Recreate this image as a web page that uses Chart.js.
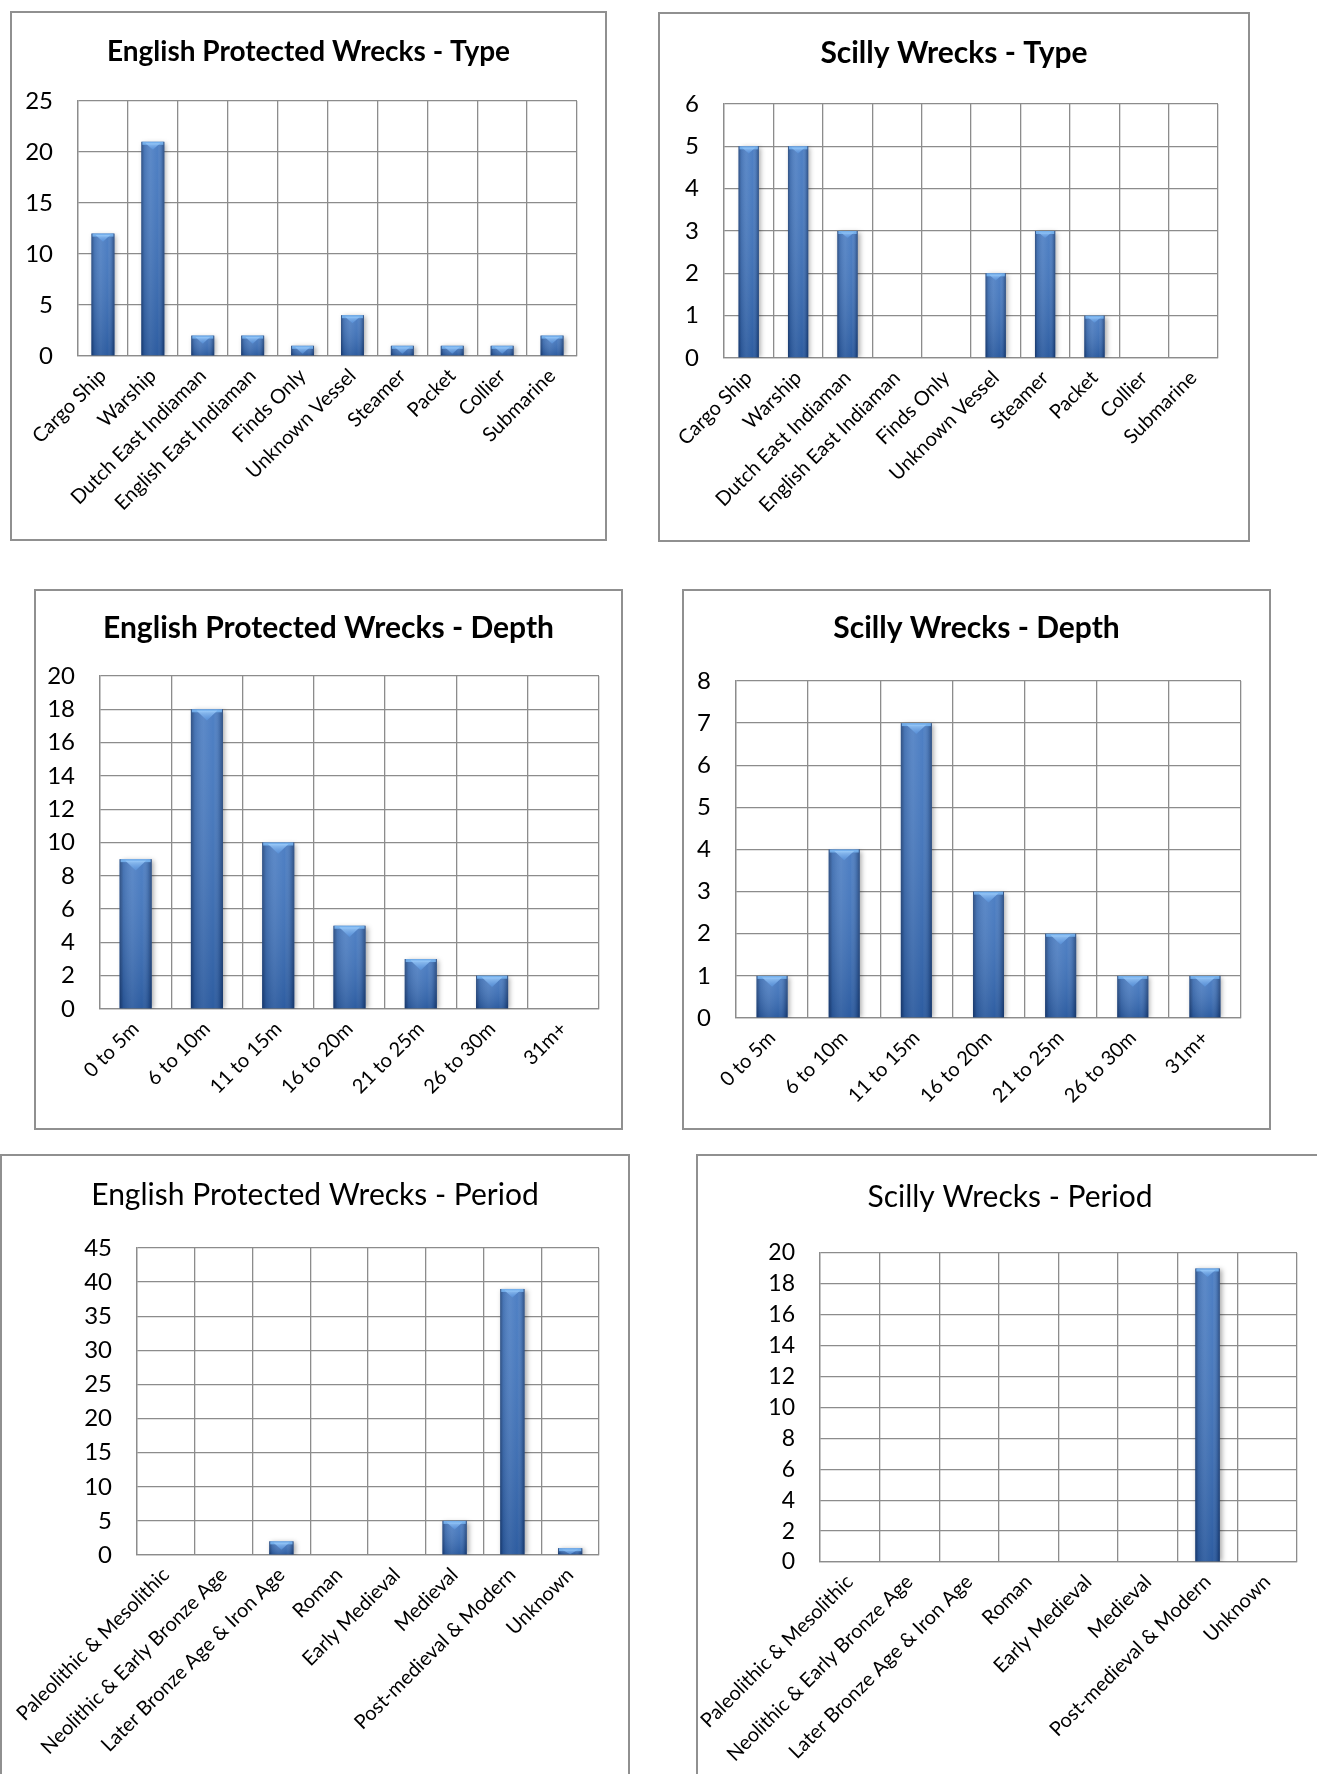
<!DOCTYPE html>
<html>
<head>
<meta charset="utf-8">
<script src="https://cdn.jsdelivr.net/npm/chart.js@4.4.0/dist/chart.umd.min.js"></script>
<style>
  html, body { margin: 0; padding: 0; background: #fff; width: 1317px; height: 1774px; overflow: hidden; }
  .panel { position: absolute; box-sizing: border-box; border: 2px solid #909090; background: #fff; }
  .panel canvas { position: absolute; left: -2px; top: -2px; }
</style>
</head>
<body>
<div class="panel" id="p1"><canvas id="c1"></canvas></div>
<div class="panel" id="p2"><canvas id="c2"></canvas></div>
<div class="panel" id="p3"><canvas id="c3"></canvas></div>
<div class="panel" id="p4"><canvas id="c4"></canvas></div>
<div class="panel" id="p5"><canvas id="c5"></canvas></div>
<div class="panel" id="p6"><canvas id="c6"></canvas></div>
<script>
// ── Data ──
const typeLabels = ['Cargo Ship', 'Warship', 'Dutch East Indiaman', 'English East Indiaman', 'Finds Only',
                    'Unknown Vessel', 'Steamer', 'Packet', 'Collier', 'Submarine'];
const englishType = [12, 21, 2, 2, 1, 4, 1, 1, 1, 2];
const scillyType  = [5, 5, 3, 0, 0, 2, 3, 1, 0, 0];

const depthLabels = ['0 to 5m', '6 to 10m', '11 to 15m', '16 to 20m', '21 to 25m', '26 to 30m', '31m+'];
const englishDepth = [9, 18, 10, 5, 3, 2, 0];
const scillyDepth  = [1, 4, 7, 3, 2, 1, 1];

const periodLabels = ['Paleolithic & Mesolithic', 'Neolithic & Early Bronze Age', 'Later Bronze Age & Iron Age',
                      'Roman', 'Early Medieval', 'Medieval', 'Post-medieval & Modern', 'Unknown'];
const englishPeriod = [0, 0, 2, 0, 0, 5, 39, 1];
const scillyPeriod  = [0, 0, 0, 0, 0, 0, 19, 0];

// y axis ranges [max, step]
const englishTypeAxis   = [25, 5];
const scillyTypeAxis    = [6, 1];
const englishDepthAxis  = [20, 2];
const scillyDepthAxis   = [8, 1];
const englishPeriodAxis = [45, 5];
const scillyPeriodAxis  = [20, 2];

// ── Panel layout (box in page px, plot area relative to box) ──
const panels = [
  { id: 1, title: 'English Protected Wrecks - Type', labels: typeLabels, values: englishType, axis: englishTypeAxis,
    box: [10, 11, 597, 530], plot: [68, 90, 567, 345], ty: 41, ts: 28, bold: true, cp: 0.46, ys: 24 },
  { id: 2, title: 'Scilly Wrecks - Type', labels: typeLabels, values: scillyType, axis: scillyTypeAxis,
    box: [658, 12, 592, 530], plot: [66, 92, 560, 346], ty: 41, ts: 30, bold: true, cp: 0.41, ys: 24 },
  { id: 3, title: 'English Protected Wrecks - Depth', labels: depthLabels, values: englishDepth, axis: englishDepthAxis,
    box: [34, 589, 589, 541], plot: [66, 87, 565, 420], ty: 39, ts: 30, bold: true, cp: 0.45, ys: 24 },
  { id: 4, title: 'Scilly Wrecks - Depth', labels: depthLabels, values: scillyDepth, axis: scillyDepthAxis,
    box: [682, 589, 589, 541], plot: [54, 92, 559, 429], ty: 39, ts: 30, bold: true, cp: 0.43, ys: 24 },
  { id: 5, title: 'English Protected Wrecks - Period', labels: periodLabels, values: englishPeriod, axis: englishPeriodAxis,
    box: [0, 1154, 630, 640], plot: [137, 94, 599, 401], ty: 41, ts: 30, bold: false, cp: 0.42, ys: 24 },
  { id: 6, title: 'Scilly Wrecks - Period', labels: periodLabels, values: scillyPeriod, axis: scillyPeriodAxis,
    box: [696, 1154, 628, 640], plot: [124, 99, 601, 408], ty: 43, ts: 30, bold: false, cp: 0.41, ys: 23 }
];

Chart.defaults.font.family = 'Lato, "Open Sans", sans-serif';
Chart.defaults.color = '#000';

const GRID = '#8c8c8c';

// ── Bevelled bar look (shading drawn over the library's bar elements) ──
const bevel = {
  id: 'bevel',
  beforeDatasetsDraw(chart) {
    const c = chart.ctx;
    c.save();
    c.shadowColor = 'rgba(0,0,0,0.35)';
    c.shadowBlur = 5;
    c.shadowOffsetX = 2;
    c.shadowOffsetY = 1;
  },
  afterDatasetsDraw(chart) {
    const c = chart.ctx;
    c.restore();
    chart.getDatasetMeta(0).data.forEach(bar => {
      const { x, y, base, width } = bar.getProps(['x', 'y', 'base', 'width'], true);
      const h = base - y;
      if (h < 1) return;
      const l = x - width / 2, r = x + width / 2;
      c.save();
      // sides darker, middle lighter
      const g = c.createLinearGradient(l, 0, r, 0);
      g.addColorStop(0, 'rgba(8,30,70,0.6)');
      g.addColorStop(0.12, 'rgba(8,30,70,0.15)');
      g.addColorStop(0.4, 'rgba(255,255,255,0.08)');
      g.addColorStop(0.7, 'rgba(255,255,255,0)');
      g.addColorStop(0.9, 'rgba(8,30,70,0.22)');
      g.addColorStop(1, 'rgba(8,30,70,0.6)');
      c.fillStyle = g;
      c.fillRect(l, y, width, h);
      // top lighter, bottom darker
      const v = c.createLinearGradient(0, y, 0, base);
      v.addColorStop(0, 'rgba(255,255,255,0.10)');
      v.addColorStop(1, 'rgba(0,20,60,0.22)');
      c.fillStyle = v;
      c.fillRect(l, y, width, h);
      // cap
      const cap = Math.min(width * 0.35, h);
      c.fillStyle = 'rgba(120,180,240,0.9)';
      c.fillRect(l + 1, y, width - 2, Math.min(3, h));
      const tg = c.createLinearGradient(0, y, 0, y + cap);
      tg.addColorStop(0, 'rgba(165,210,252,0.95)');
      tg.addColorStop(1, 'rgba(90,150,225,0.6)');
      c.fillStyle = tg;
      c.beginPath();
      c.moveTo(l + width * 0.18, y + 1.5);
      c.lineTo(r - width * 0.18, y + 1.5);
      c.lineTo(x, y + cap);
      c.closePath();
      c.fill();
      c.restore();
    });
  }
};

// ── Build Charts ──
panels.forEach(p => {
  const [bx, by, bw, bh] = p.box;
  const [pl, pt, pr, pb] = p.plot;
  const div = document.getElementById('p' + p.id);
  div.style.left = bx + 'px';
  div.style.top = by + 'px';
  div.style.width = bw + 'px';
  div.style.height = bh + 'px';
  const cv = document.getElementById('c' + p.id);
  cv.width = bw;
  cv.height = bh;

  const padTop = p.ty - p.ts * 0.6;
  const padBottom = pt - padTop - p.ts * 1.2;

  new Chart(cv.getContext('2d'), {
    type: 'bar',
    data: {
      labels: p.labels,
      datasets: [{
        data: p.values,
        backgroundColor: '#3a71bd',
        borderWidth: 0,
        barPercentage: 1,
        categoryPercentage: p.cp
      }]
    },
    options: {
      responsive: false,
      animation: false,
      layout: { padding: 0 },
      plugins: {
        legend: { display: false },
        tooltip: { enabled: false },
        title: {
          display: true,
          text: p.title,
          color: '#000',
          font: { size: p.ts, weight: p.bold ? 'bold' : 'normal' },
          padding: { top: padTop, bottom: padBottom }
        }
      },
      scales: {
        x: {
          grid: { color: GRID, lineWidth: 1.3, drawTicks: false, offset: true },
          border: { color: GRID, width: 1.3 },
          ticks: { font: { size: 20 }, color: '#000', minRotation: 45, maxRotation: 45, autoSkip: false, padding: 8 },
          afterFit: s => { s.height = bh - pb; s.paddingLeft = 0; s.paddingRight = 0; }
        },
        y: {
          min: 0,
          max: p.axis[0],
          ticks: { stepSize: p.axis[1], font: { size: p.ys }, color: '#000', padding: 25, autoSkip: false },
          grid: { color: GRID, lineWidth: 1.3, drawTicks: false },
          border: { color: GRID, width: 1.3 },
          afterFit: s => { s.width = pl; s.paddingTop = 0; s.paddingBottom = 0; }
        },
        // empty right-hand spacer so the plot ends where the reference's does
        spacer: {
          type: 'linear',
          position: 'right',
          ticks: { display: false },
          grid: { display: false, drawTicks: false },
          border: { display: false },
          afterFit: s => { s.width = bw - pr; s.paddingTop = 0; s.paddingBottom = 0; }
        }
      }
    },
    plugins: [bevel]
  });
});
</script>
</body>
</html>
